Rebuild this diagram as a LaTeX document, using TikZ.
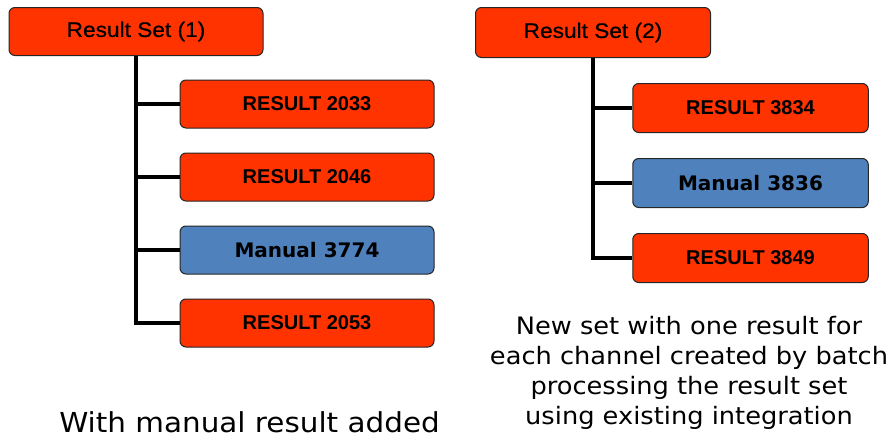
\documentclass[tikz,border=0pt]{standalone}
\usepackage{fontspec}
\usepackage{xcolor}
\usetikzlibrary{positioning}
\newfontfamily\setfont[FakeStretch=1.08, FakeBold=0.6]{Liberation Sans}
\newfontfamily\resfont{Liberation Sans}
\newfontfamily\manfont{DejaVu Sans}
\newfontfamily\capfont[FakeStretch=1.07]{DejaVu Sans}
\definecolor{resred}{HTML}{FF3300}
\definecolor{manblue}{HTML}{4F81BD}
\tikzset{
  box/.style={rectangle, draw=black!85, line width=1pt, rounded corners=6pt, inner sep=0pt, minimum height=48pt, align=center},
  setbox/.style={box, fill=resred, font=\setfont\fontsize{21}{25}\selectfont},
  resbox/.style={box, fill=resred, minimum width=254pt, font=\resfont\bfseries\fontsize{20}{24}\selectfont},
  manbox/.style={box, fill=manblue, minimum width=254pt, font=\manfont\bfseries\fontsize{20}{24}\selectfont},
  link/.style={line width=4pt},
}

\begin{document}
\begin{tikzpicture}[x=1pt, y=-1pt, node distance=24pt]
  \useasboundingbox (0,0) rectangle (892,439);

  % first set, with the manual result
  \node[setbox, minimum width=254pt] (set1) at (136,31.5) {Result Set (1)};
  \node[resbox] (r2033) at (307,104) {RESULT 2033};
  \node[resbox, below=of r2033] (r2046) {RESULT 2046};
  \node[manbox, below=of r2046] (m3774) {Manual 3774};
  \node[resbox, below=of m3774] (r2053) {RESULT 2053};

  \draw[link] (set1.south) |- (r2053.west);
  \foreach \n in {r2033, r2046, m3774}
    \draw[link] (set1.south |- \n.west) -- (\n.west);

  % second set, made by batch processing
  \node[setbox, minimum width=235pt, minimum height=50pt] (set2) at (593,32.5) {Result Set (2)};
  \node[resbox, minimum width=235.5pt, minimum height=49pt] (r3834) at (750.5,108) {RESULT 3834};
  \node[manbox, minimum width=235.5pt, minimum height=49pt, below=25pt of r3834] (m3836) {Manual 3836};
  \node[resbox, minimum width=235.5pt, minimum height=49pt, below=25pt of m3836] (r3849) {RESULT 3849};

  \draw[link] (set2.south) |- (r3849.west);
  \foreach \n in {r3834, m3836}
    \draw[link] (set2.south |- \n.west) -- (\n.west);

  % captions
  \node[font=\capfont\fontsize{27.5}{32}\selectfont, anchor=base, inner sep=0pt] (cap1) at (249.5,432) {With manual result added};
  \node[font=\capfont\fontsize{24}{30}\selectfont, align=center, inner sep=0pt] (cap2) at (689,373)
    {New set with one result for\\each channel created by batch\\processing the result set\\using existing integration};
\end{tikzpicture}
\end{document}
